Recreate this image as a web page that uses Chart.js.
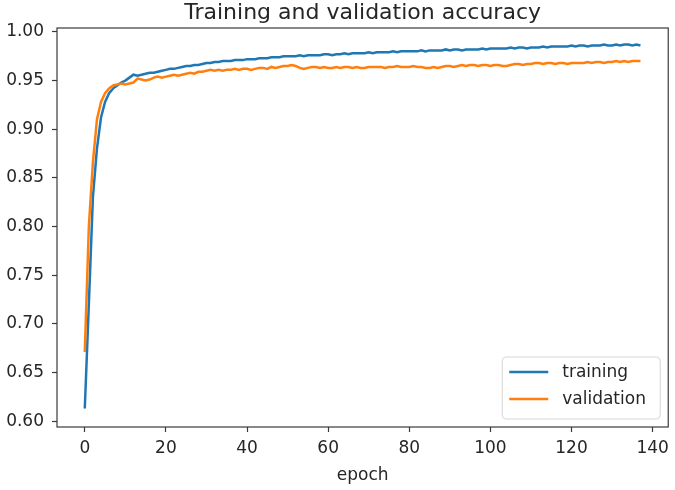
<!DOCTYPE html>
<html>
<head>
<meta charset="utf-8">
<script src="https://cdn.jsdelivr.net/npm/chart.js@4.4.1/dist/chart.umd.min.js"></script>
<style>
  html, body { margin: 0; padding: 0; background: #fff; }
  #wrap { width: 675px; height: 490px; }
</style>
</head>
<body>
<div id="wrap"><canvas id="accChart" width="675" height="490"></canvas></div>
<script>
const training = [
  0.613, 0.720, 0.830, 0.880, 0.912, 0.928, 0.937, 0.942, 0.945, 0.948,
  0.950, 0.953, 0.956, 0.955, 0.956, 0.957, 0.958, 0.958, 0.959, 0.960,
  0.961, 0.962, 0.962, 0.963, 0.964, 0.965, 0.965, 0.966, 0.966, 0.967,
  0.968, 0.968, 0.969, 0.969, 0.970, 0.970, 0.970, 0.971, 0.971, 0.971,
  0.972, 0.972, 0.972, 0.973, 0.973, 0.973, 0.974, 0.974, 0.974, 0.975,
  0.975, 0.975, 0.975, 0.976, 0.975, 0.976, 0.976, 0.976, 0.976, 0.977,
  0.977, 0.976, 0.977, 0.977, 0.978, 0.977, 0.978, 0.978, 0.978, 0.978,
  0.979, 0.978, 0.979, 0.979, 0.979, 0.979, 0.980, 0.979, 0.980, 0.980,
  0.980, 0.980, 0.980, 0.981, 0.980, 0.981, 0.981, 0.981, 0.981, 0.982,
  0.981, 0.982, 0.982, 0.981, 0.982, 0.982, 0.982, 0.982, 0.983, 0.982,
  0.983, 0.983, 0.983, 0.983, 0.983, 0.984, 0.983, 0.984, 0.984, 0.983,
  0.984, 0.984, 0.984, 0.985, 0.984, 0.985, 0.985, 0.985, 0.985, 0.985,
  0.986, 0.985, 0.986, 0.986, 0.985, 0.986, 0.986, 0.986, 0.987, 0.986,
  0.986, 0.987, 0.986, 0.987, 0.987, 0.986, 0.987, 0.986
];

const validation = [
  0.671, 0.800, 0.866, 0.910, 0.928, 0.937, 0.942, 0.945, 0.946, 0.947,
  0.946, 0.947, 0.948, 0.952, 0.951, 0.950, 0.951, 0.953, 0.954, 0.953,
  0.954, 0.955, 0.956, 0.955, 0.956, 0.957, 0.958, 0.957, 0.959, 0.959,
  0.960, 0.961, 0.960, 0.961, 0.960, 0.961, 0.961, 0.962, 0.961, 0.962,
  0.962, 0.961, 0.962, 0.963, 0.963, 0.962, 0.964, 0.963, 0.964, 0.965,
  0.965, 0.966, 0.965, 0.963, 0.962, 0.963, 0.964, 0.964, 0.963, 0.964,
  0.963, 0.963, 0.964, 0.963, 0.964, 0.964, 0.963, 0.964, 0.963, 0.963,
  0.964, 0.964, 0.964, 0.964, 0.963, 0.964, 0.964, 0.965, 0.964, 0.964,
  0.964, 0.965, 0.964, 0.964, 0.963, 0.963, 0.964, 0.963, 0.964, 0.965,
  0.965, 0.964, 0.965, 0.966, 0.965, 0.966, 0.966, 0.965, 0.966, 0.966,
  0.965, 0.966, 0.966, 0.965, 0.965, 0.966, 0.967, 0.967, 0.966, 0.967,
  0.967, 0.968, 0.968, 0.967, 0.968, 0.968, 0.967, 0.968, 0.968, 0.967,
  0.968, 0.968, 0.968, 0.968, 0.969, 0.968, 0.969, 0.969, 0.968, 0.969,
  0.969, 0.970, 0.969, 0.970, 0.969, 0.970, 0.970, 0.970
];

const epochs = training.map((_, i) => i);

const xTicks = [0, 20, 40, 60, 80, 100, 120, 140];
const yTicks = [0.60, 0.65, 0.70, 0.75, 0.80, 0.85, 0.90, 0.95, 1.00];

const titleText = "Training and validation accuracy";
const xLabel = "epoch";

const FONT = "'DejaVu Sans', sans-serif";
const INK = "#262626";

// frame, title and the legend box inside the plot, matplotlib style
const mplDecor = {
  id: "mplDecor",
  afterDraw(chart) {
    const { ctx, chartArea: a } = chart;
    ctx.save();

    ctx.strokeStyle = "#3a3a3a";
    ctx.lineWidth = 1.2;
    ctx.strokeRect(a.left, a.top, a.right - a.left, a.bottom - a.top);

    ctx.fillStyle = INK;
    ctx.font = "22px " + FONT;
    ctx.textAlign = "center";
    ctx.textBaseline = "alphabetic";
    ctx.fillText(titleText, (a.left + a.right) / 2, a.top - 9);

    const w = 158, h = 62;
    const x = a.right - 8 - w, y = a.bottom - 8 - h;
    ctx.beginPath();
    ctx.roundRect(x, y, w, h, 4);
    ctx.fillStyle = "rgba(255,255,255,0.8)";
    ctx.fill();
    ctx.strokeStyle = "#d6d6d6";
    ctx.lineWidth = 1;
    ctx.stroke();

    ctx.font = "17px " + FONT;
    ctx.textAlign = "left";
    ctx.textBaseline = "middle";
    chart.data.datasets.forEach((ds, i) => {
      const ly = y + 15 + i * 27;
      ctx.beginPath();
      ctx.moveTo(x + 7, ly);
      ctx.lineTo(x + 46, ly);
      ctx.strokeStyle = ds.borderColor;
      ctx.lineWidth = 2.5;
      ctx.stroke();
      ctx.fillStyle = INK;
      ctx.fillText(ds.label, x + 60, ly + 1);
    });

    ctx.restore();
  },
};

new Chart(document.getElementById("accChart"), {
  type: "line",
  data: {
    labels: epochs,
    datasets: [
      {
        label: "training",
        data: training,
        borderColor: "#1f77b4",
        borderWidth: 2.5,
        pointRadius: 0,
        tension: 0,
        order: 1,
      },
      {
        label: "validation",
        data: validation,
        borderColor: "#ff7f0e",
        borderWidth: 2.5,
        pointRadius: 0,
        tension: 0,
        order: 0,
      },
    ],
  },
  options: {
    responsive: false,
    animation: false,
    layout: { padding: { top: 28, right: 6, left: 0, bottom: 0 } },
    plugins: {
      legend: { display: false },
      tooltip: { enabled: false },
      title: { display: false },
    },
    scales: {
      x: {
        type: "linear",
        min: -6.85,
        max: 143.85,
        afterFit: (s) => { s.height = 63; },
        afterBuildTicks: (s) => { s.ticks = xTicks.map((v) => ({ value: v })); },
        grid: { drawOnChartArea: false, tickLength: 5, color: "#3a3a3a", tickWidth: 1.2 },
        border: { display: false },
        ticks: { color: INK, font: { family: FONT, size: 17 }, padding: 6, maxRotation: 0 },
        title: { display: true, text: xLabel, color: INK, font: { family: FONT, size: 17 }, padding: { bottom: 4 } },
      },
      y: {
        min: 0.594,
        max: 1.004,
        afterFit: (s) => { s.width = 57; },
        afterBuildTicks: (s) => { s.ticks = yTicks.map((v) => ({ value: v })); },
        grid: { drawOnChartArea: false, tickLength: 5, color: "#3a3a3a", tickWidth: 1.2 },
        border: { display: false },
        ticks: {
          color: INK,
          font: { family: FONT, size: 17 },
          padding: 8,
          callback: (v) => v.toFixed(2),
        },
      },
    },
  },
  plugins: [mplDecor],
});
</script>
</body>
</html>
